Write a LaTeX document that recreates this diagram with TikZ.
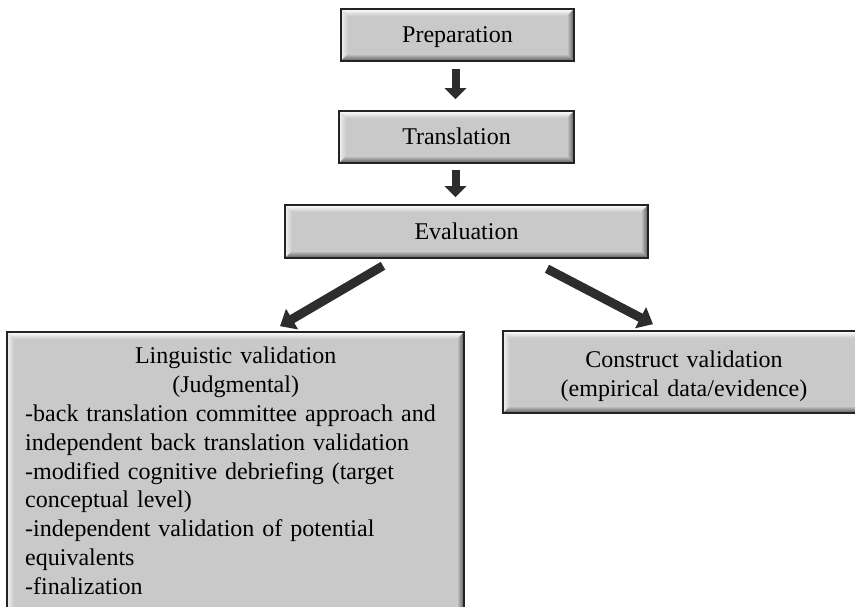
\documentclass[tikz,border=0pt]{standalone}
\usepackage{fontspec}
\setmainfont{Liberation Serif}
\usetikzlibrary{arrows.meta,calc}
\definecolor{boxgray}{RGB}{201,201,201}
\definecolor{arrowgray}{RGB}{45,45,45}
\definecolor{edgegray}{RGB}{35,35,35}
\tikzset{
  bevelbox/.style={rectangle, draw=edgegray, line width=1.6pt, fill=boxgray, inner sep=0pt,
    font=\fontsize{24}{28.8}\selectfont, align=center,
    path picture={
      \path (path picture bounding box.north west) coordinate (pnw)
            (path picture bounding box.north east) coordinate (pne)
            (path picture bounding box.south west) coordinate (psw)
            (path picture bounding box.south east) coordinate (pse);
      \shade[top color=white, bottom color=boxgray]
        (pnw) -- (pne) -- ($(pne)+(-7pt,-7pt)$) -- ($(pnw)+(7pt,-7pt)$) -- cycle;
      \shade[left color=white!75!boxgray, right color=boxgray]
        (pnw) -- ($(pnw)+(7pt,-7pt)$) -- ($(psw)+(7pt,7pt)$) -- (psw) -- cycle;
      \shade[left color=boxgray, right color=black!65]
        (pne) -- ($(pne)+(-7pt,-7pt)$) -- ($(pse)+(-7pt,7pt)$) -- (pse) -- cycle;
      \shade[top color=boxgray, bottom color=black!65]
        (psw) -- ($(psw)+(7pt,7pt)$) -- ($(pse)+(-7pt,7pt)$) -- (pse) -- cycle;
    }},
  oneline/.style={text height=18pt, text depth=2pt},
  vertarrow/.style={draw=arrowgray, line width=8pt, -{Triangle[width=21pt,length=11pt]}},
  diagarrow/.style={draw=arrowgray, line width=9pt, -{Triangle[width=23pt,length=14pt]}},
  bodytext/.style={font=\fontsize{24}{28.8}\selectfont, inner sep=0pt, text width=421pt, align=left},
  centertext/.style={font=\fontsize{24}{28.8}\selectfont, inner sep=0pt, text width=340pt, align=center}
}
\begin{document}
\begin{tikzpicture}[x=1pt,y=1pt]
\useasboundingbox (0,0) rectangle (855,606);
\fill[white] (0,0) rectangle (855,606);
\clip (0,0) rectangle (855,606);

\node[bevelbox, oneline, minimum width=233pt, minimum height=52pt] (prep) at (457.5,571) {Preparation};
\node[bevelbox, oneline, minimum width=235pt, minimum height=52pt] (trans) at (456.5,469) {Translation};
\node[bevelbox, oneline, minimum width=363pt, minimum height=53pt] (eval) at (466.5,374.5) {Evaluation};
\node[bevelbox, minimum width=457pt, minimum height=284pt] (ling) at (235.5,132) {};
\node[bevelbox, minimum width=362pt, minimum height=82pt] (cons) at (684,234) {};

\node[bodytext, anchor=base west] (lingtext) at (25,242)
  {{\centering Linguistic validation\\(Judgmental)\par}
   -back translation committee approach and\\
   independent back translation validation\\
   -modified cognitive debriefing (target\\
   conceptual level)\\
   -independent validation of potential\\
   equivalents\\
   -finalization};
\node[centertext, anchor=base] (constext) at (684,238)
  {Construct validation\\(empirical data/evidence)};

\draw[vertarrow, shorten <=7pt, shorten >=11pt] ([xshift=-2pt]prep.south) -- ([xshift=-1pt]trans.north);
\draw[vertarrow, shorten <=6pt, shorten >=7pt] ([xshift=-1pt]trans.south) -- ([xshift=-11pt]eval.north);
\draw[diagarrow] ([xshift=-83.5pt,yshift=-7pt]eval.south) -- ([xshift=44.5pt,yshift=5pt]ling.north);
\draw[diagarrow] ([xshift=80.5pt,yshift=-10pt]eval.south) -- ([xshift=-31pt,yshift=6pt]cons.north);
\end{tikzpicture}
\end{document}
